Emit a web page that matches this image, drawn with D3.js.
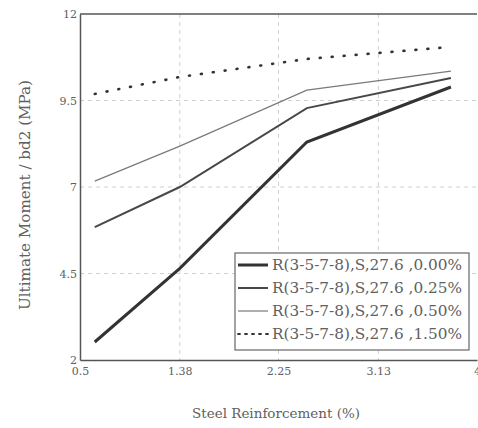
<!DOCTYPE html>
<html>
<head>
<meta charset="utf-8">
<script src="https://cdn.jsdelivr.net/npm/d3@7"></script>
<style>
  body { margin: 0; background: #fff; }
  svg { display: block; }
</style>
</head>
<body>
<div class="canvas"></div>
<script>
// Data
const steel = [0.63, 1.38, 2.5, 3.77];
const series0 = [2.52, 4.65, 8.3, 9.89];
const series25 = [5.84, 7.0, 9.28, 10.15];
const series50 = [7.17, 8.18, 9.8, 10.35];
const series150 = [9.69, 10.18, 10.7, 11.05];
const seriesNames = [
    'R(3-5-7-8),S,27.6 ,0.00%',
    'R(3-5-7-8),S,27.6 ,0.25%',
    'R(3-5-7-8),S,27.6 ,0.50%',
    'R(3-5-7-8),S,27.6 ,1.50%'
];
const xTicks = [0.5, 1.38, 2.25, 3.13, 4];
const xTickLabels = ['0.5', '1.38', '2.25', '3.13', '4'];
const yTicks = [2, 4.5, 7, 9.5, 12];
const yTickLabels = ['2', '4.5', '7', '9.5', '12'];

// Graph set up
const svgWidth = 478;
const svgHeight = 428;
const margin = {top: 14, right: 1, bottom: 68, left: 80};
const graphWidth = svgWidth - margin.left - margin.right;
const graphHeight = svgHeight - margin.top - margin.bottom;

const font = '"DejaVu Serif", "Liberation Serif", serif';
const textColor = '#606060';

const svg = d3.select('.canvas')
    .append('svg')
    .attr('width', svgWidth)
    .attr('height', svgHeight);

const graph = svg.append('g')
    .attr('transform', `translate(${margin.left},${margin.top})`);

// Scales
const x = d3.scaleLinear().domain([0.5, 4]).range([0, graphWidth]);
const y = d3.scaleLinear().domain([2, 12]).range([graphHeight, 0]);

// Grid
graph.append('g')
    .selectAll('line')
    .data(xTicks.slice(1, -1))
    .enter().append('line')
    .attr('x1', d => x(d)).attr('x2', d => x(d))
    .attr('y1', 0).attr('y2', graphHeight)
    .attr('stroke', '#cfcfcf')
    .attr('stroke-width', 1)
    .attr('stroke-dasharray', '4,4');

graph.append('g')
    .selectAll('line')
    .data(yTicks.slice(1, -1))
    .enter().append('line')
    .attr('x1', 0).attr('x2', graphWidth)
    .attr('y1', d => y(d)).attr('y2', d => y(d))
    .attr('stroke', '#cfcfcf')
    .attr('stroke-width', 1)
    .attr('stroke-dasharray', '4,4');

// Axes
const xAxis = d3.axisBottom(x)
    .tickValues(xTicks)
    .tickSize(0)
    .tickPadding(7)
    .tickFormat((d, i) => xTickLabels[i]);

const yAxis = d3.axisLeft(y)
    .tickValues(yTicks)
    .tickSize(0)
    .tickPadding(3)
    .tickFormat((d, i) => yTickLabels[i]);

const xAxisGroup = graph.append('g')
    .attr('transform', `translate(0,${graphHeight})`)
    .call(xAxis);

const yAxisGroup = graph.append('g').call(yAxis);

[xAxisGroup, yAxisGroup].forEach(g => {
    g.select('.domain').attr('stroke', '#555').attr('stroke-width', 1.5);
    g.selectAll('text')
        .attr('fill', textColor)
        .style('font-family', font)
        .style('font-size', '11px');
});

// Top frame
graph.append('line')
    .attr('x1', 0).attr('x2', graphWidth)
    .attr('y1', 0).attr('y2', 0)
    .attr('stroke', '#555')
    .attr('stroke-width', 1.5);

// Axis labels
svg.append('text')
    .attr('x', 276)
    .attr('y', 418)
    .attr('text-anchor', 'middle')
    .attr('fill', textColor)
    .attr('textLength', 168)
    .attr('lengthAdjust', 'spacingAndGlyphs')
    .style('font-family', font)
    .style('font-size', '13px')
    .text('Steel Reinforcement (%)');

svg.append('text')
    .attr('transform', `translate(30,195) rotate(-90)`)
    .attr('text-anchor', 'middle')
    .attr('fill', textColor)
    .attr('textLength', 230)
    .attr('lengthAdjust', 'spacingAndGlyphs')
    .style('font-family', font)
    .style('font-size', '14px')
    .text('Ultimate Moment / bd2 (MPa)');

// Lines
const styles = [
    {values: series0, stroke: '#333', width: 3, dash: null},
    {values: series25, stroke: '#484848', width: 2, dash: null},
    {values: series50, stroke: '#7a7a7a', width: 1.2, dash: null},
    {values: series150, stroke: '#333', width: 2.6, dash: '1,11'}
];

const line = d3.line()
    .x(d => x(d[0]))
    .y(d => y(d[1]));

styles.forEach(s => {
    graph.append('path')
        .datum(steel.map((v, i) => [v, s.values[i]]))
        .attr('fill', 'none')
        .attr('stroke', s.stroke)
        .attr('stroke-width', s.width)
        .attr('stroke-dasharray', s.dash)
        .attr('stroke-linecap', s.dash ? 'round' : 'butt')
        .attr('d', line);
});

// Legend
const legend = svg.append('g')
    .attr('transform', 'translate(235,253)');

legend.append('rect')
    .attr('width', 234)
    .attr('height', 97)
    .attr('fill', '#fff')
    .attr('stroke', '#666')
    .attr('stroke-width', 1.2);

styles.forEach((s, i) => {
    const row = legend.append('g')
        .attr('transform', `translate(0,${12 + i * 23})`);
    row.append('line')
        .attr('x1', 3).attr('x2', 33)
        .attr('y1', 0).attr('y2', 0)
        .attr('stroke', s.stroke)
        .attr('stroke-width', s.dash ? 1.8 : s.width)
        .attr('stroke-dasharray', s.dash ? '2,5' : null)
        .attr('stroke-linecap', s.dash ? 'round' : 'butt');
    row.append('text')
        .attr('x', 37)
        .attr('y', 5)
        .attr('fill', textColor)
        .attr('textLength', 190)
        .attr('lengthAdjust', 'spacingAndGlyphs')
        .style('font-family', font)
        .style('font-size', '14px')
        .text(seriesNames[i]);
});
</script>
</body>
</html>
